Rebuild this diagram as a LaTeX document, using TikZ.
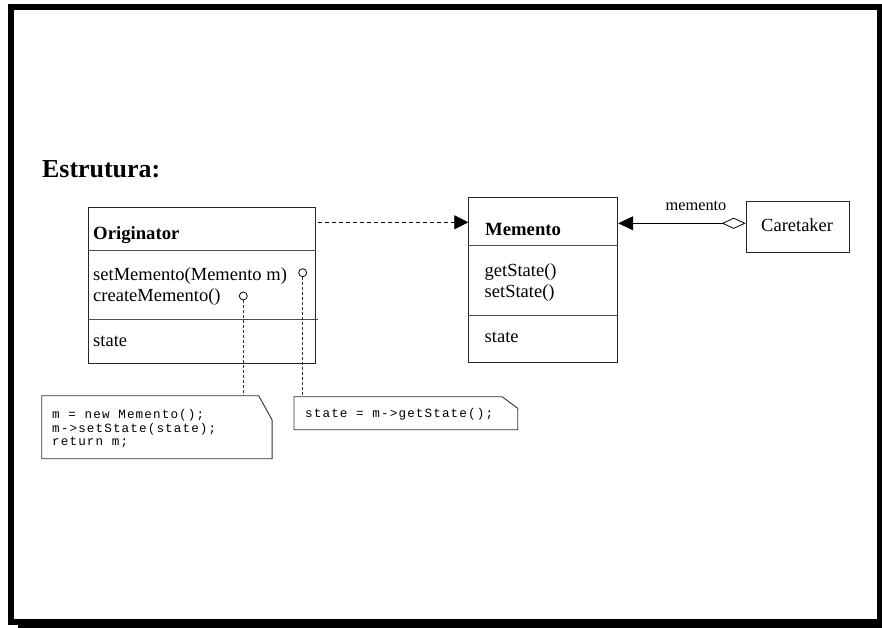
\documentclass[tikz,border=0pt]{standalone}
\usepackage{fontspec}
\setmainfont{Liberation Serif}
\setmonofont{Liberation Mono}
\newfontfamily\codefont[LetterSpace=9]{Liberation Mono}
\usetikzlibrary{arrows.meta}
\begin{document}
\begin{tikzpicture}[x=1pt,y=-1pt,
  umlbox/.style={draw=black!85,line width=0.9pt,inner sep=0pt,anchor=north west},
  divider/.style={draw=black!70,line width=0.9pt},
  title/.style={anchor=base west,inner sep=0pt,font=\fontsize{18.7}{20}\selectfont\bfseries},
  member/.style={anchor=base west,inner sep=0pt,font=\fontsize{18.5}{20}\selectfont},
  code/.style={anchor=base west,inner sep=0pt,font=\fontsize{12.6}{12.8}\selectfont\codefont,align=left},
  pin/.style={circle,draw=black,line width=0.8pt,minimum size=8pt,inner sep=0pt,fill=white},
  dotline/.style={draw=black!80,line width=0.8pt,dash pattern=on 3pt off 2pt},
  notebox/.style={draw=black!80,line width=0.9pt},
  anchorbox/.style={inner sep=0pt,minimum width=0pt,minimum height=0pt,anchor=north west}
]
\useasboundingbox (0,0) rectangle (882,628);
\fill[white] (0,0) rectangle (882,628);
% frame and shadow
\draw[line width=6pt] (11,7) rectangle (880,622);
\fill (18,622) rectangle (882,628);

% heading
\node[anchor=base west,inner sep=0pt,font=\fontsize{25.9}{28}\selectfont\bfseries] (head) at (42,178) {Estrutura:};

% Originator
\node[umlbox,minimum width=227.3pt,minimum height=156.3pt] (orig) at (87.7,206.7) {};
\draw[divider] (orig.west |- 0,250.7) -- (orig.east |- 0,250.7);
\draw[divider] (orig.west |- 0,319.3) -- ([xshift=2pt]orig.east |- 0,319.3);
\node[title] (origname) at (93,239.5) {Originator};
\node[member] (setm) at (93,280) {setMemento(Memento m)};
\node[member] (crem) at (93,301) {createMemento()};
\node[member] (ostate) at (93,346.5) {state};
\node[pin] (c1) at (302.7,272.7) {};
\node[pin] (c2) at (243.3,296) {};

% Memento
\node[umlbox,minimum width=149pt,minimum height=164.4pt] (mem) at (468.3,197.3) {};
\draw[divider] (mem.west |- 0,245.7) -- (mem.east |- 0,245.7);
\draw[divider] (mem.west |- 0,315.7) -- (mem.east |- 0,315.7);
\node[title] (memname) at (485,235) {Memento};
\node[member] (gets) at (484.5,276.5) {getState()};
\node[member] (sets) at (484.5,297.5) {setState()};
\node[member] (mstate) at (484.5,342.5) {state};

% Caretaker
\node[umlbox,minimum width=103.6pt,minimum height=51pt] (care) at (745.7,200.7) {};
\node[member] (carename) at (761,231) {Caretaker};

% dependency
\draw[dashed,dash pattern=on 4pt off 3pt,line width=0.8pt,-{Triangle[length=14pt,width=14pt]}]
  ([xshift=2pt]orig.east |- 0,222.3) -- (mem.west |- 0,222.3);

% association with aggregation
\draw[line width=0.8pt,{Diamond[open,length=24pt,width=11pt]}-{Triangle[length=15pt,width=14pt]}]
  (care.west |- 0,223.3) -- (mem.east |- 0,223.3);
\node[anchor=base,inner sep=0pt,font=\fontsize{16.3}{18}\selectfont] (assoc) at (696,210.7) {memento};

% note 1
\node[anchorbox,minimum width=230pt,minimum height=62.6pt] (n1) at (41.7,395.7) {};
\draw[notebox] (n1.north west) -- ([xshift=-13.4pt]n1.north east) -- ([yshift=-24.3pt]n1.north east)
  -- (n1.south east) -- (n1.south west) -- cycle;
\node[code,anchor=north west] (n1t) at (52,409.5) {m = new Memento();\\[0.6pt]m->setState(state);\\[0.6pt]return m;};

% note 2
\node[anchorbox,minimum width=223.3pt,minimum height=32.6pt] (n2) at (294,396.7) {};
\draw[notebox] (n2.north west) -- ([xshift=-15.6pt]n2.north east) -- ([yshift=-11.6pt]n2.north east)
  -- (n2.south east) -- (n2.south west) -- cycle;
\node[code] (n2t) at (305,417.5) {state = m->getState();};

% note links
\draw[dotline] (c2.south) -- (c2.south |- n1.north);
\draw[dotline] (c1.south) -- (c1.south |- n2.north);
\end{tikzpicture}
\end{document}
